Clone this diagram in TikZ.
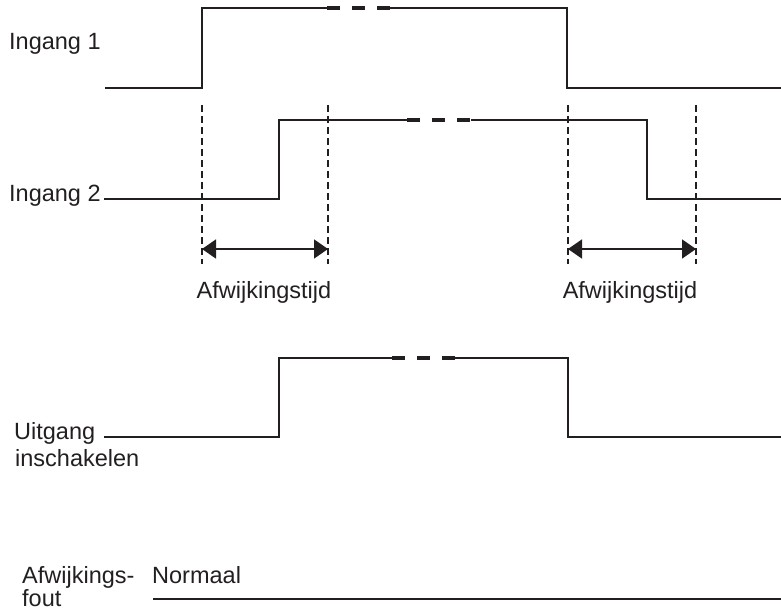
\documentclass[tikz,border=0pt]{standalone}
\usepackage{fontspec}
\setmainfont{Liberation Sans}
\usetikzlibrary{arrows.meta}
\definecolor{ink}{HTML}{231F20}
\begin{document}
\begin{tikzpicture}[x=1pt,y=-1pt,
  lbl/.style={anchor=base west,inner sep=0pt,text=ink,font=\fontsize{23.5}{28}\selectfont},
  midlbl/.style={anchor=base,inner sep=0pt,text=ink,font=\fontsize{23.5}{28}\selectfont},
  trace/.style={draw=ink,line width=1.7pt,line join=miter},
  gapdash/.style={draw=ink,line width=3.4pt,dash pattern=on 13pt off 12pt},
  guide/.style={draw=ink,line width=1.3pt,dash pattern=on 7pt off 4pt},
  guidetop/.style={draw=ink,line width=2.8pt},
  span/.style={draw=ink,line width=1.7pt,{Triangle[length=14pt,width=19pt]}-{Triangle[length=14pt,width=19pt]}}]
\useasboundingbox (0,0) rectangle (781,615);

% signal names
\node[lbl] (in1) at (9,50) {Ingang 1};
\node[lbl] (in2) at (9,201) {Ingang 2};
\node[lbl] (out1) at (14,439) {Uitgang};
\node[lbl] (out2) at (15,466) {inschakelen};
\node[lbl] (err1) at (22,583) {Afwijkings-};
\node[lbl] (err2) at (22,606) {fout};
\node[lbl] (norm) at (152,583) {Normaal};

% Ingang 1
\draw[trace] (105,88) -- (202,88) -- (202,8) -- (327,8);
\draw[gapdash] (327,8) -- (390,8);
\draw[trace] (390,8) -- (567,8) -- (567,88) -- (781,88);

% Ingang 2
\draw[trace] (104,199) -- (279,199) -- (279,120) -- (407,120);
\draw[gapdash] (407,120) -- (471,120);
\draw[trace] (471,120) -- (647,120) -- (647,199) -- (781,199);

% timing guides
\foreach \gx/\gn in {202/a,328/b,568/c,696/d}{
  \draw[guidetop] (\gx,105) -- (\gx,112);
  \draw[guide] (\gx,116) -- (\gx,264);
  \coordinate (\gn) at (\gx,249);
}

% discrepancy time spans
\draw[span] (a) -- (b);
\draw[span] (c) -- (d);
\node[midlbl] (t1) at (264,298) {Afwijkingstijd};
\node[midlbl] (t2) at (630,298) {Afwijkingstijd};

% Uitgang inschakelen
\draw[trace] (104,437) -- (279,437) -- (279,358) -- (392,358);
\draw[gapdash] (392,358) -- (455,358);
\draw[trace] (455,358) -- (568,358) -- (568,437) -- (781,437);

% Afwijkingsfout
\draw[trace] (153,599) -- (781,599);
\end{tikzpicture}
\end{document}
